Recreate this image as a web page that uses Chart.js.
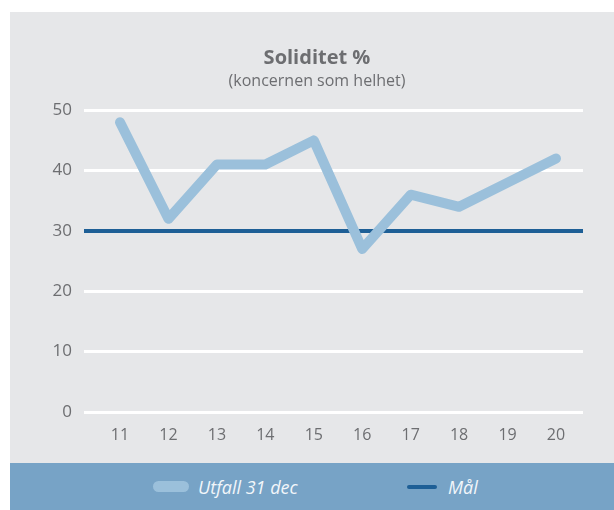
<!DOCTYPE html>
<html>
<head>
<meta charset="utf-8">
<script src="https://cdn.jsdelivr.net/npm/chart.js@4"></script>
<style>
  html, body { margin: 0; padding: 0; background: #ffffff; }
  body { width: 614px; height: 510px; position: relative; overflow: hidden; font-family: "Open Sans", "Noto Sans", sans-serif; }
  #panel { position: absolute; left: 10px; top: 12px; width: 604px; height: 451px; background: #e6e7e9; }
  #legend { position: absolute; left: 10px; top: 463px; width: 604px; height: 47px; background: #77a3c6; }
  .item { position: absolute; top: 0; height: 47px; display: flex; align-items: center; color: #f2f6fa; font-style: italic; font-size: 18px; }
  .sw { display: inline-block; margin-right: 9px; }
</style>
</head>
<body>
<div id="panel"><canvas id="c" width="604" height="451"></canvas></div>
<div id="legend">
  <div class="item" id="leg1" style="left:143px;"><span class="sw" style="width:36px;height:11px;border-radius:6px;background:#9bc0db;"></span><span id="t1"></span></div>
  <div class="item" id="leg2" style="left:397px;"><span class="sw" style="width:30px;height:4px;border-radius:2px;background:#1e5f96;margin-right:11px;"></span><span id="t2"></span></div>
</div>
<script>
const titleText = "Soliditet %";
const subtitleText = "(koncernen som helhet)";
const years = [11, 12, 13, 14, 15, 16, 17, 18, 19, 20];
const utfall = [48, 32, 41, 41, 45, 27, 36, 34, 38, 42];
const target = 30;
const seriesNames = ["Utfall 31 dec", "Mål"];
const yTicks = [0, 10, 20, 30, 40, 50];
const xMin = 10.257, xMax = 20.557;

document.getElementById('t1').textContent = seriesNames[0];
document.getElementById('t2').textContent = seriesNames[1];

const grey = '#6d6e71';
new Chart(document.getElementById('c'), {
  type: 'line',
  data: {
    datasets: [
      {
        label: seriesNames[0],
        data: years.map((y, i) => ({ x: y, y: utfall[i] })),
        borderColor: '#9bc0db',
        borderWidth: 10,
        borderCapStyle: 'round',
        borderJoinStyle: 'round',
        pointRadius: 0,
        fill: false,
        tension: 0,
        order: 0
      },
      {
        label: seriesNames[1],
        data: [{ x: xMin, y: target }, { x: xMax, y: target }],
        borderColor: '#1e5f96',
        borderWidth: 4,
        pointRadius: 0,
        fill: false,
        order: 1
      }
    ]
  },
  options: {
    responsive: false,
    animation: false,
    layout: { padding: { left: 41, right: 31, top: 0, bottom: 0 } },
    plugins: {
      legend: { display: false },
      tooltip: { enabled: false },
      title: {
        display: true,
        text: titleText,
        color: grey,
        font: { family: '"Open Sans", sans-serif', size: 20, weight: 'bold', lineHeight: 1.2 },
        padding: { top: 34, bottom: 0 }
      },
      subtitle: {
        display: true,
        text: subtitleText,
        color: grey,
        font: { family: '"Open Sans", sans-serif', size: 16, weight: 'normal', lineHeight: 1.2 },
        padding: { top: 2, bottom: 19 }
      }
    },
    scales: {
      x: {
        type: 'linear',
        min: xMin,
        max: xMax,
        afterBuildTicks: (s) => { s.ticks = years.map(v => ({ value: v })); },
        grid: { display: false },
        border: { display: false },
        ticks: {
          color: grey,
          padding: 6,
          font: { family: '"Open Sans", sans-serif', size: 16 },
          callback: (v) => String(v),
          maxRotation: 0,
          autoSkip: false
        },
        afterFit: (s) => { s.height = 51; }
      },
      y: {
        min: 0,
        max: 50,
        afterBuildTicks: (s) => { s.ticks = yTicks.map(v => ({ value: v })); },
        grid: { color: '#ffffff', lineWidth: 3, drawTicks: false },
        border: { display: false },
        ticks: {
          color: grey,
          padding: 12,
          font: { family: '"Open Sans", sans-serif', size: 17 }
        },
        afterFit: (s) => { s.width = 33; }
      }
    }
  }
});
</script>
</body>
</html>
